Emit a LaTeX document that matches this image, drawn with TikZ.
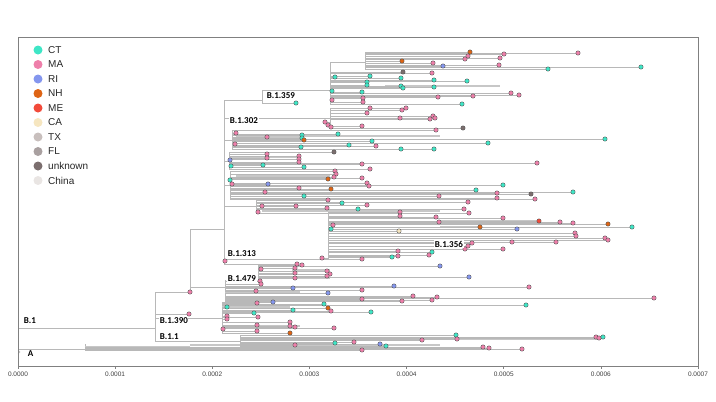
\documentclass[tikz,border=0pt]{standalone}
\usepackage{fontspec}
\setmainfont{Liberation Sans}
\newfontfamily\carlito{Carlito}
\usetikzlibrary{positioning}

\definecolor{ct}{HTML}{3EE6C6}
\definecolor{ma}{HTML}{EE7FAA}
\definecolor{ri}{HTML}{8496EE}
\definecolor{nh}{HTML}{DE6414}
\definecolor{me}{HTML}{F24A3A}
\definecolor{ca}{HTML}{F6E6C0}
\definecolor{tx}{HTML}{C8BFBD}
\definecolor{fl}{HTML}{A9A0A0}
\definecolor{unk}{HTML}{7B6E6E}
\definecolor{chn}{HTML}{E9E5E3}
\definecolor{branch}{HTML}{B8B8B8}
\definecolor{frame}{HTML}{808080}

\pgfdeclarelayer{lines}
\pgfsetlayers{lines,main}

\tikzset{
  br/.style={draw=branch, line width=0.6pt},
  band/.style={draw=black!22, line width=#1},
  tipdot/.style={fill=#1, draw=black!65, line width=0.35pt},
  lab/.style={font=\carlito\bfseries\fontsize{9}{9}\selectfont, anchor=west, inner sep=0.6pt, fill=white},
  legtext/.style={font=\fontsize{10}{10}\selectfont, anchor=west, inner sep=0pt, text=black!85},
}

% one clade: parent x, then y/tip x/colour of each tip
\newcommand\clade[2]{%
  \foreach \y/\tx/\col in {#2}{%
    \begin{pgfonlayer}{lines}\draw[br] (#1,\y) -- (\tx,\y);\end{pgfonlayer}
    \filldraw[tipdot=\col] (\tx,\y) circle (2.2pt);}}

\begin{document}
\begin{tikzpicture}[x=1pt,y=-1pt]
\useasboundingbox (0,0) rectangle (716,402);

% frame and axis
\draw[frame, line width=1pt] (18,366) -- (18,37) -- (698,37) -- (698,366);
\draw[frame, line width=0.8pt] (18,366) -- (698,366);
\foreach \i in {0,...,7}{
  \draw[frame, line width=0.6pt] (18+97.14*\i,366) -- ++(0,3);
  \node[font=\fontsize{6.5}{6.5}\selectfont, text=black!75] (tick\i) at (18+97.14*\i,374) {0.000\i};
}

% legend
\foreach \col/\txt [count=\i] in {ct/CT, ma/MA, ri/RI, nh/NH, me/ME, ca/CA, tx/TX, fl/FL, unk/unknown, chn/China}{
  \fill[\col] (38,35.5+14.5*\i) circle (4.5pt);
  \node[legtext] (leg\i) at (48,35.5+14.5*\i) {\txt};
}

\begin{pgfonlayer}{lines}
% vertical lines of the clades
\foreach \x/\a/\b in {18/328/352, 155/292/341, 190/229/292, 224/100/264, 262/90/103,
    330/62/104, 365/52/69, 330/108/128, 232/130/150, 229/152/170, 230/171/199,
    256/200/213, 328/212/259, 258/264/278, 225/280/301, 222/302/333, 240/335/346, 85/344/350}
  \draw[br] (\x,\a) -- (\x,\b);
% backbone
\foreach \a/\b/\y in {18/155/328, 18/85/349, 155/190/292, 155/222/318, 155/240/341,
    190/224/229, 190/225/287, 224/262/100, 262/330/90, 330/365/62, 224/330/118,
    224/232/140, 224/229/161, 224/230/185, 224/256/206, 224/328/259, 224/258/264}
  \draw[br] (\a,\y) -- (\b,\y);
% overlapping branches
\foreach \a/\b/\y/\w in {333/367/73/2.5pt, 385/500/86/2pt, 236/300/137/3pt, 300/440/136/1.5pt,
    229/300/157/2.5pt, 236/330/176/2pt, 262/440/211/2pt, 440/540/221/3pt, 440/480/227/2pt,
    292/330/270/3pt, 258/330/278/2pt, 225/300/292/2.5pt, 222/290/307/2pt, 222/300/326/2.5pt,
    290/600/339/2.5pt, 85/190/347/2pt, 190/440/345/2.5pt}
  \draw[band=\w] (\a,\y) -- (\b,\y);
\draw[br] (18,350) -- (20,352) -- (18,354);
\end{pgfonlayer}

% B.1.359
\clade{262}{103/296/ct}
\clade{365}{52/470/nh, 53/578/ma, 54/504/ma, 56/468/ma, 58/500/ma, 59/465/ma, 61/402/nh,
  63/433/ma, 65/499/ma, 66/443/ri, 67/641/ct, 69/548/ct}
\clade{330}{72/403/unk, 73/432/ma, 76/370/ct, 77/335/ct, 78/401/ct, 80/434/ct, 81/467/ct,
  82/367/ct, 85/367/ct, 86/401/ct, 87/434/ct, 88/403/ct, 91/332/ct, 92/362/ct, 93/511/ma,
  95/519/ma, 96/473/ma, 97/438/ma, 98/363/ma, 100/332/ma, 102/363/ma, 104/462/ct}
% B.1.302
\clade{330}{108/370/ma, 108/406/ma, 110/402/ma, 113/367/ma, 116/433/ma, 118/435/ma, 118/400/ma,
  119/430/ma, 122/325/ma, 125/328/ma, 127/331/ma, 126/362/ma, 128/463/unk}
\clade{232}{130/436/ma, 133/236/ma, 134/338/ct, 135/302/ct, 137/267/ma, 138/302/ct, 139/605/ct,
  140/304/nh, 141/372/ct, 143/488/ct, 144/235/ma, 145/349/ct, 146/376/ma, 147/301/ct,
  149/401/ct, 149/434/ct}
\clade{229}{152/334/unk, 154/267/ma, 156/299/ma, 158/267/ma, 159/299/ma, 160/230/ri, 162/299/ma,
  163/537/ma, 164/362/ma, 165/263/ct, 166/231/ct, 167/304/ct, 169/370/ma}
\clade{230}{171/335/ma, 174/336/ma, 177/334/ma, 178/362/ma, 179/328/nh, 180/230/ct, 183/367/ma,
  184/232/ma, 184/268/ri, 185/503/ct, 186/369/ma, 188/299/ma, 189/331/nh, 190/476/ct,
  192/265/ma, 192/573/ct, 193/497/ma, 194/531/unk, 196/304/ct, 196/439/ma, 198/497/ma, 199/535/ma}
\clade{256}{200/328/ma, 202/468/ma, 203/342/ct, 205/367/ma, 206/262/ma, 206/296/ma, 208/327/ma,
  209/358/ct, 209/464/ma, 212/258/ma, 213/469/ma}
% B.1.356
\clade{328}{212/400/ma, 216/400/ma, 217/436/ma, 218/503/ma, 221/539/me, 222/439/ma, 222/560/ma,
  223/573/ma, 224/608/nh, 225/333/ma, 227/632/ct, 227/480/nh, 229/331/ct, 229/517/ri,
  231/399/ca, 233/575/ma, 236/576/ma, 238/605/ma, 240/608/ma, 242/512/ma, 242/556/ma,
  243/472/ma, 246/468/ma, 249/465/ma, 249/503/ma, 251/398/ma, 252/432/ct, 255/429/ma,
  256/398/ma, 257/392/ct, 258/322/ma, 259/362/ma}
% B.1.313
\clade{224}{261/225/ma}
\clade{258}{264/297/ma, 265/302/ma, 266/440/ri, 269/261/ma, 268/295/ma, 271/327/ma, 273/295/ma,
  274/330/ma, 276/327/ma, 277/469/ri, 278/295/ma}
% B.1.479
\clade{225}{281/260/ma, 284/261/ma, 286/394/ri, 287/529/ma, 288/293/ri, 290/362/ma, 291/256/ma,
  293/328/ri, 296/413/ma, 297/437/ma, 298/654/ma, 299/362/ma, 300/432/ma, 301/402/ma}
% B.1.390
\clade{155}{292/190/ma, 314/189/ma}
\clade{222}{302/273/ri, 303/257/ma, 304/324/ct, 305/526/ct, 307/227/ct, 308/328/nh, 310/293/ct,
  311/331/ma, 312/371/ct, 313/254/ct, 316/227/ma, 319/227/ma, 317/258/ma, 322/290/ma,
  325/257/ma, 327/295/ma, 326/290/ma, 328/334/ma, 329/223/ma, 331/257/ma, 333/290/nh}
% B.1.1
\clade{240}{335/456/ct, 337/596/ma, 338/599/ma, 337/603/ct, 339/457/ma, 340/422/ma, 342/354/ma,
  343/335/ct, 344/380/ri, 345/295/ma, 346/386/ct}
\clade{85}{347/483/ma, 348/489/ma, 349/522/ma, 350/362/ma}

% lineage labels
\node[lab] (l359) at (266,96) {B.1.359};
\node[lab] (l302) at (229,121) {B.1.302};
\node[lab] (l313) at (227,254) {B.1.313};
\node[lab] (l356) at (434,244) {B.1.356};
\node[lab] (l479) at (227,279) {B.1.479};
\node[lab] (l390) at (159,321) {B.1.390};
\node[lab] (l11) at (159,337) {B.1.1};
\node[lab] (lb1) at (23,321) {B.1};
\node[lab] (la) at (27,354) {A};
\end{tikzpicture}
\end{document}
